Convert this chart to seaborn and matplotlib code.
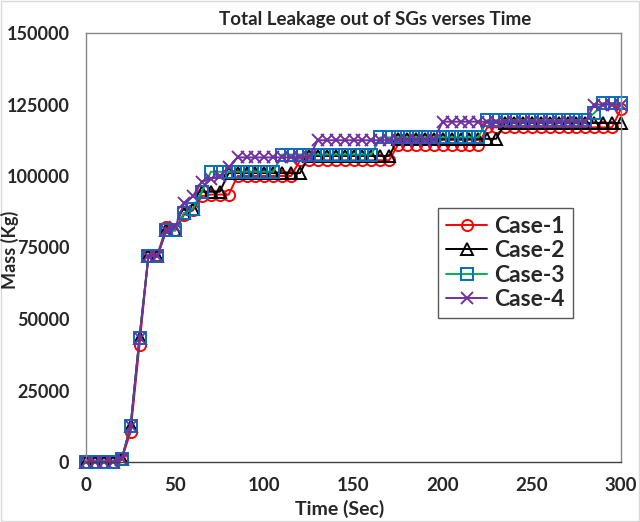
import matplotlib
matplotlib.use("Agg")
import matplotlib.pyplot as plt
import seaborn as sns
import pandas as pd
from matplotlib.patches import Rectangle

# ---------------- data ----------------
time_sec = list(range(0, 301, 5))

case1 = [0, 0, 0, 0, 1000, 10500, 41000, 72000, 72500, 82000, 81000, 86500, 88000, 93000,
         93500, 93500, 93500,
         100000, 100000, 100000, 100000, 100000, 100000, 100000,
         105500, 105500, 105500, 105500, 105500, 105500, 105500, 105500, 105500, 105500, 105500,
         111000, 111000, 111000, 111000, 111000, 111000, 111000, 111000, 111000, 111000,
         117000, 117000, 117000, 117000, 117000, 117000, 117000, 117000, 117000, 117000,
         117000, 117000, 117000, 117000, 117000,
         123500]

case2 = [0, 0, 0, 0, 1000, 12500, 43500, 72000, 72000, 81000, 81000, 87000, 88500, 94500,
         94500, 94500,
         101000, 101000, 101000, 101000, 101000, 101000, 101000, 101000, 101000,
         107000, 107000, 107000, 107000, 107000, 107000, 107000, 107000, 107000, 107000,
         113000, 113000, 113000, 113000, 113000, 113000, 113000, 113000, 113000, 113000, 113000, 113000,
         118500, 118500, 118500, 118500, 118500, 118500, 118500, 118500, 118500, 118500,
         118500, 118500, 118500, 118500]

case3 = [0, 0, 0, 0, 1000, 12500, 43500, 72000, 72000, 81000, 81000, 87000, 88500, 94500,
         101500, 101500, 101500, 101500, 101500, 101500, 101500, 101500,
         107500, 107500, 107500, 107500, 107500, 107500, 107500, 107500, 107500, 107500, 107500,
         113500, 113500, 113500, 113500, 113500, 113500, 113500, 113500, 113500, 113500, 113500, 113500,
         119500, 119500, 119500, 119500, 119500, 119500, 119500, 119500, 119500, 119500, 119500, 119500,
         122000,
         125500, 125500, 125500]

case4 = [0, 0, 0, 0, 1000, 12500, 43500, 72000, 72000, 81000, 82000, 90500, 93000, 98000,
         99000, 100000, 103000,
         106500, 106500, 106500, 106500, 106500, 106500, 106500, 106500, 106500,
         112500, 112500, 112500, 112500, 112500, 112500, 112500, 112500, 112500, 112500,
         112500, 112500, 112500, 112500,
         119000, 119000, 119000, 119000, 119000, 119000, 119000, 119000, 119000, 119000,
         119000, 119000, 119000, 119000, 119000, 119000, 119000,
         125000, 125000, 125000, 125000]

series_names = ["Case-1", "Case-2", "Case-3", "Case-4"]
x_ticks = [0, 50, 100, 150, 200, 250, 300]
y_ticks = [0, 25000, 50000, 75000, 100000, 125000, 150000]
title_text = "Total Leakage out of SGs verses Time"
x_label = "Time (Sec)"
y_label = "Mass (Kg)"

df = pd.DataFrame({"Time": time_sec, "Case-1": case1, "Case-2": case2,
                   "Case-3": case3, "Case-4": case4})

# ---------------- style ----------------
sns.set_theme(style="white")
plt.rcParams['font.family'] = ['Lato', 'DejaVu Sans']

styles = {
    "Case-1": dict(color="#FF0000", marker="o", mec="#FF0000"),
    "Case-2": dict(color="#000000", marker="^", mec="#000000"),
    "Case-3": dict(color="#00B050", marker="s", mec="#0070C0"),
    "Case-4": dict(color="#7030A0", marker="x", mec="#7030A0"),
}

W, H = 640, 522
fig = plt.figure(figsize=(W / 100, H / 100), dpi=100)
L, R, T, B = 86, 621, 33, 462
ax = fig.add_axes([L / W, 1 - B / H, (R - L) / W, (B - T) / H])

for name in series_names:
    st = styles[name]
    sns.lineplot(data=df, x="Time", y=name, ax=ax, label=name, color=st["color"],
                 marker=st["marker"], markersize=8, markerfacecolor="none",
                 markeredgecolor=st["mec"], markeredgewidth=1.4, linewidth=1.4,
                 clip_on=False, errorbar=None, sort=False)

ax.set_xlim(0, 300)
ax.set_ylim(0, 150000)
ax.set_xticks(x_ticks)
ax.set_yticks(y_ticks)
ax.set_xticklabels([str(v) for v in x_ticks], fontsize=13.5, fontweight="bold")
ax.set_yticklabels([str(v) for v in y_ticks], fontsize=13, fontweight="bold")
ax.tick_params(axis="both", direction="out", length=5, width=1, color="#868686")
ax.tick_params(axis="y", pad=7)
ax.tick_params(axis="x", pad=6)

for side in ["left", "right", "top"]:
    ax.spines[side].set_color("#868686")
    ax.spines[side].set_linewidth(1)
ax.spines["bottom"].set_color("#404040")
ax.spines["bottom"].set_linewidth(1)

ax.set_xlabel("")
ax.set_ylabel("")
fig.text(340 / W, 1 - 509 / H, x_label, ha="center", va="center",
         fontsize=14, fontweight="bold")
fig.text(10 / W, 1 - 250 / H, y_label, ha="center", va="center", rotation=90,
         fontsize=13, fontweight="bold")

fig.text(375 / W, 1 - 20 / H, title_text, ha="center", va="center",
         fontsize=13.5, fontweight="bold")

leg = ax.legend(loc="upper left",
                bbox_to_anchor=((438 - L) / (R - L), (B - 208) / (B - T)),
                fontsize=16.5, frameon=True, fancybox=False, framealpha=1,
                edgecolor="#595959", handlelength=1.8, borderpad=0.35,
                labelspacing=0.15, handletextpad=0.3, borderaxespad=0)
for t in leg.get_texts():
    t.set_fontweight("bold")
leg.get_frame().set_linewidth(1)

fig.patches.append(Rectangle((0.002, 0.002), 0.996, 0.996, transform=fig.transFigure,
                             fill=False, edgecolor="#D9D9D9", linewidth=1))

fig.savefig("out.png", dpi=100)
